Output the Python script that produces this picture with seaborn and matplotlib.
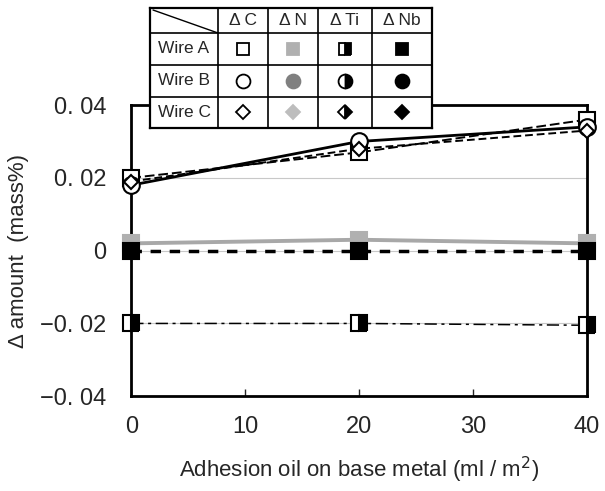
import matplotlib
matplotlib.use("Agg")
import matplotlib.pyplot as plt
import seaborn as sns

oil = [0, 20, 40]

# Wire A (squares)
a_c = [0.020, 0.027, 0.036]
a_n = [0.002, 0.003, 0.002]
a_ti = [-0.020, -0.020, -0.0205]
a_nb = [0.000, 0.000, 0.000]
# Wire B (circles)
b_c = [0.018, 0.030, 0.034]
b_n = [0.002, 0.002, 0.002]
b_ti = [-0.020, -0.020, -0.020]
b_nb = [0.000, 0.000, 0.000]
# Wire C (diamonds)
c_c = [0.019, 0.028, 0.033]
c_n = [0.002, 0.002, 0.002]
c_ti = [-0.020, -0.020, -0.020]
c_nb = [0.000, 0.000, 0.000]

wires = ["Wire A", "Wire B", "Wire C"]
elements = ["Δ C", "Δ N", "Δ Ti", "Δ Nb"]
yticks = [-0.04, -0.02, 0, 0.02, 0.04]
ytick_labels = ["−0. 04", "−0. 02", "0", "0. 02", "0. 04"]
xticks = [0, 10, 20, 30, 40]

data = {
    ("Wire A", "Δ C"): a_c, ("Wire A", "Δ N"): a_n, ("Wire A", "Δ Ti"): a_ti, ("Wire A", "Δ Nb"): a_nb,
    ("Wire B", "Δ C"): b_c, ("Wire B", "Δ N"): b_n, ("Wire B", "Δ Ti"): b_ti, ("Wire B", "Δ Nb"): b_nb,
    ("Wire C", "Δ C"): c_c, ("Wire C", "Δ N"): c_n, ("Wire C", "Δ Ti"): c_ti, ("Wire C", "Δ Nb"): c_nb,
}

sns.set_style("white")
plt.rcParams["font.family"] = ["Liberation Sans", "DejaVu Sans"]

marker_of = {"Wire A": "s", "Wire B": "o", "Wire C": "D"}
size_of = {"Wire A": 11, "Wire B": 12, "Wire C": 7.5}
table_size = {"Wire A": 9, "Wire B": 10, "Wire C": 7}
gray_of = {"Wire A": "#b0b0b0", "Wire B": "#808080", "Wire C": "#bdbdbd"}
# hidden markers sit under the squares
under = {"Wire A": 0, "Wire B": 1, "Wire C": 1}


def marker_style(wire, elem):
    st = dict(marker=marker_of[wire], markeredgewidth=1.5, markeredgecolor="black")
    if elem == "Δ C":
        st.update(markerfacecolor="white")
    elif elem == "Δ N":
        st.update(markerfacecolor=gray_of[wire], markeredgecolor=gray_of[wire])
    elif elem == "Δ Ti":
        st.update(fillstyle="right", markerfacecolor="black", markerfacecoloralt="white")
    else:
        st.update(markerfacecolor="black")
    return st


line_of = {
    ("Wire A", "Δ C"): dict(color="black", ls=(0, (5, 2)), lw=1.4),
    ("Wire B", "Δ C"): dict(color="black", ls="-", lw=2.0),
    ("Wire C", "Δ C"): dict(color="black", ls=(0, (4, 2)), lw=1.4),
    ("Wire A", "Δ N"): dict(color="#a8a8a8", ls="-", lw=2.8),
    ("Wire A", "Δ Ti"): dict(color="black", ls=(0, (8, 3, 2, 3)), lw=1.1),
    ("Wire A", "Δ Nb"): dict(color="black", ls=(0, (3, 2.5)), lw=2.5),
}
# draw order of the upper cluster: squares under circles, diamonds on top
zc_of = {"Wire A": 3, "Wire B": 3.2, "Wire C": 3.4}

fig = plt.figure(figsize=(6.05, 4.91), dpi=100)
ax = fig.add_axes([0.217, 0.193, 0.753, 0.593])

for y in [-0.02, 0, 0.02]:
    ax.axhline(y, color="#c8c8c8", lw=0.8, zorder=0)

for (wire, elem), vals in data.items():
    ls = line_of.get((wire, elem), dict(color="black", ls="none", lw=0))
    ms = size_of[wire]
    z = zc_of[wire]
    if elem != "Δ C":
        ms = ms - 3 if under[wire] else ms
        z = 2 if under[wire] else 4
    sns.lineplot(x=oil, y=vals, ax=ax, color=ls["color"], linestyle=ls["ls"],
                 linewidth=ls["lw"], markersize=ms, zorder=z, clip_on=False,
                 **marker_style(wire, elem))

ax.set_xlim(0, 40)
ax.set_ylim(-0.04, 0.04)
ax.set_xticks(xticks)
ax.set_xticklabels([str(v) for v in xticks], fontsize=17)
ax.set_yticks(yticks)
ax.set_yticklabels(ytick_labels, fontsize=17)
ax.tick_params(axis="x", direction="in", length=5, width=1, pad=14, bottom=True)
ax.tick_params(axis="y", length=0, pad=18)
for s in ax.spines.values():
    s.set_linewidth(2)
    s.set_color("black")
ax.set_xlabel("Adhesion oil on base metal (ml / m$^2$)", fontsize=16, labelpad=12)
ax.set_ylabel("Δ amount  (mass%)", fontsize=16, labelpad=8)

# symbol table on top of the chart
col_edges = [150, 218, 268, 318, 372, 432]
row_edges = [8, 33, 65, 97, 128]
tax = fig.add_axes([150 / 605, 1 - 128 / 491, 282 / 605, 120 / 491])
tax.set_xlim(col_edges[0], col_edges[-1])
tax.set_ylim(row_edges[-1], row_edges[0])
tax.set_facecolor("white")
tax.set_xticks([])
tax.set_yticks([])
for s in tax.spines.values():
    s.set_linewidth(1.6)
    s.set_color("black")
tax.hlines(row_edges[1:-1], col_edges[0], col_edges[-1], color="black", lw=1.2)
tax.vlines(col_edges[1:-1], row_edges[0], row_edges[-1], color="black", lw=1.2)
tax.plot([col_edges[0] + 3, col_edges[1]], [row_edges[0] + 2, row_edges[1]], color="black", lw=1)

for j, elem in enumerate(elements):
    cx = (col_edges[j + 1] + col_edges[j + 2]) / 2
    tax.text(cx, (row_edges[0] + row_edges[1]) / 2, elem, ha="center", va="center", fontsize=12.5)
for i, wire in enumerate(wires):
    cy = (row_edges[i + 1] + row_edges[i + 2]) / 2
    tax.text((col_edges[0] + col_edges[1]) / 2, cy, wire, ha="center", va="center", fontsize=12.5)
    for j, elem in enumerate(elements):
        cx = (col_edges[j + 1] + col_edges[j + 2]) / 2
        st = marker_style(wire, elem)
        st["markeredgewidth"] = 1.3
        tax.plot([cx], [cy], ls="none", markersize=table_size[wire], **st)

fig.savefig("out.png", dpi=100)
